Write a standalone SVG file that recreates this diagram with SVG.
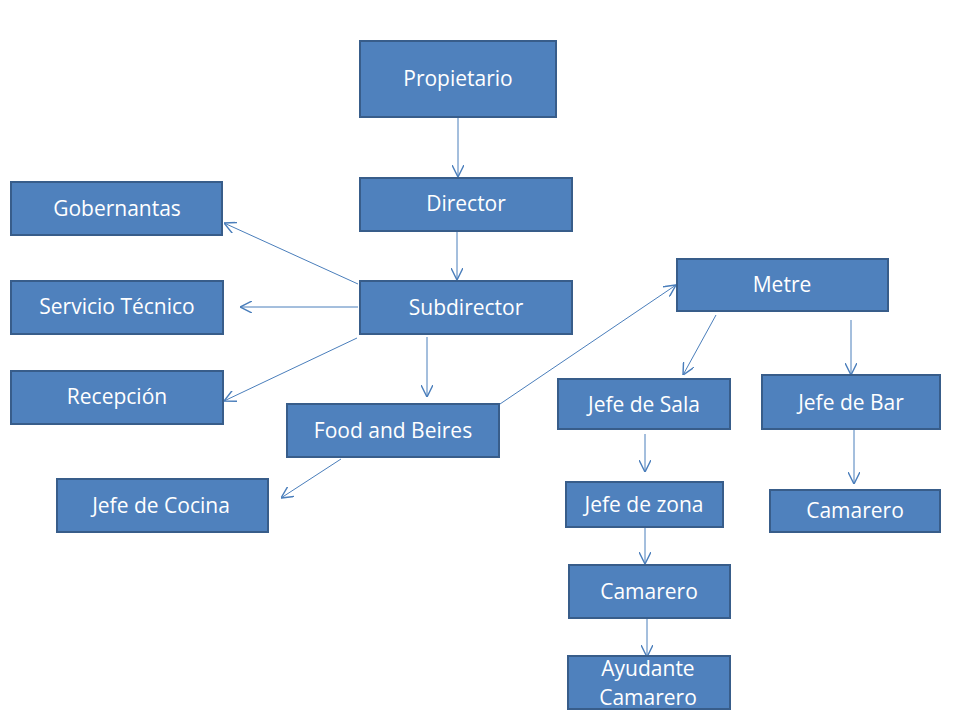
<svg xmlns="http://www.w3.org/2000/svg" width="960" height="720" viewBox="0 0 960 720">
<defs>
<style>
.box{fill:#4F81BD;stroke:#385D8A;stroke-width:2}
.t{fill:#FFFFFF;font-family:"Open Sans","Noto Sans",sans-serif;font-size:21px;text-anchor:middle;dominant-baseline:central}
.c{stroke:#4A7EBB;stroke-width:1;fill:none;marker-end:url(#ah)}
</style>
<marker id="ah" viewBox="0 0 10 10" refX="10" refY="5" markerWidth="12" markerHeight="12" markerUnits="userSpaceOnUse" orient="auto">
<path d="M0,0 L10,5 L0,10" fill="none" stroke="#4A7EBB" stroke-width="1.2"/>
</marker>
</defs>
<rect width="960" height="720" fill="#FFFFFF"/>
<g id="connectors">
<line class="c" x1="458" y1="118" x2="458" y2="177"/>
<line class="c" x1="457" y1="232" x2="457" y2="280"/>
<line class="c" x1="358" y1="284" x2="224" y2="223"/>
<line class="c" x1="358" y1="307" x2="240" y2="307"/>
<line class="c" x1="357" y1="338" x2="224" y2="401"/>
<line class="c" x1="427" y1="337" x2="427" y2="397"/>
<line class="c" x1="341" y1="459" x2="281" y2="498"/>
<line class="c" x1="500" y1="404" x2="676" y2="285"/>
<line class="c" x1="716" y1="315" x2="683" y2="375"/>
<line class="c" x1="851" y1="320" x2="851" y2="375"/>
<line class="c" x1="645" y1="434" x2="645" y2="472"/>
<line class="c" x1="645" y1="527" x2="645" y2="564"/>
<line class="c" x1="647" y1="619" x2="647" y2="657"/>
<line class="c" x1="854" y1="430" x2="854" y2="484"/>
</g>
<g id="propietario"><rect class="box" x="360" y="41" width="196" height="76"/><text class="t" x="458" y="78">Propietario</text></g>
<g id="director"><rect class="box" x="360" y="178" width="212" height="53"/><text class="t" x="466" y="203">Director</text></g>
<g id="subdirector"><rect class="box" x="360" y="281" width="212" height="53"/><text class="t" x="466" y="307">Subdirector</text></g>
<g id="gobernantas"><rect class="box" x="11" y="182" width="211" height="53"/><text class="t" x="117" y="208">Gobernantas</text></g>
<g id="servicio"><rect class="box" x="11" y="281" width="212" height="53"/><text class="t" x="117" y="306">Servicio Técnico</text></g>
<g id="recepcion"><rect class="box" x="11" y="371" width="212" height="53"/><text class="t" x="117" y="396">Recepción</text></g>
<g id="food"><rect class="box" x="287" y="404" width="212" height="53"/><text class="t" x="393" y="430">Food and Beires</text></g>
<g id="cocina"><rect class="box" x="57" y="479" width="211" height="53"/><text class="t" x="161" y="505">Jefe de Cocina</text></g>
<g id="metre"><rect class="box" x="677" y="259" width="211" height="52"/><text class="t" x="782" y="284">Metre</text></g>
<g id="sala"><rect class="box" x="558" y="379" width="172" height="50"/><text class="t" x="644" y="404">Jefe de Sala</text></g>
<g id="bar"><rect class="box" x="762" y="375" width="178" height="54"/><text class="t" x="851" y="402">Jefe de Bar</text></g>
<g id="zona"><rect class="box" x="566" y="482" width="157" height="45"/><text class="t" x="644" y="504">Jefe de zona</text></g>
<g id="camarero2"><rect class="box" x="770" y="490" width="170" height="42"/><text class="t" x="855" y="510">Camarero</text></g>
<g id="camarero1"><rect class="box" x="569" y="565" width="161" height="53"/><text class="t" x="649" y="591">Camarero</text></g>
<g id="ayudante"><rect class="box" x="568" y="656" width="162" height="53"/><text class="t" x="648" y="668">Ayudante</text><text class="t" x="648" y="697">Camarero</text></g>
</svg>
